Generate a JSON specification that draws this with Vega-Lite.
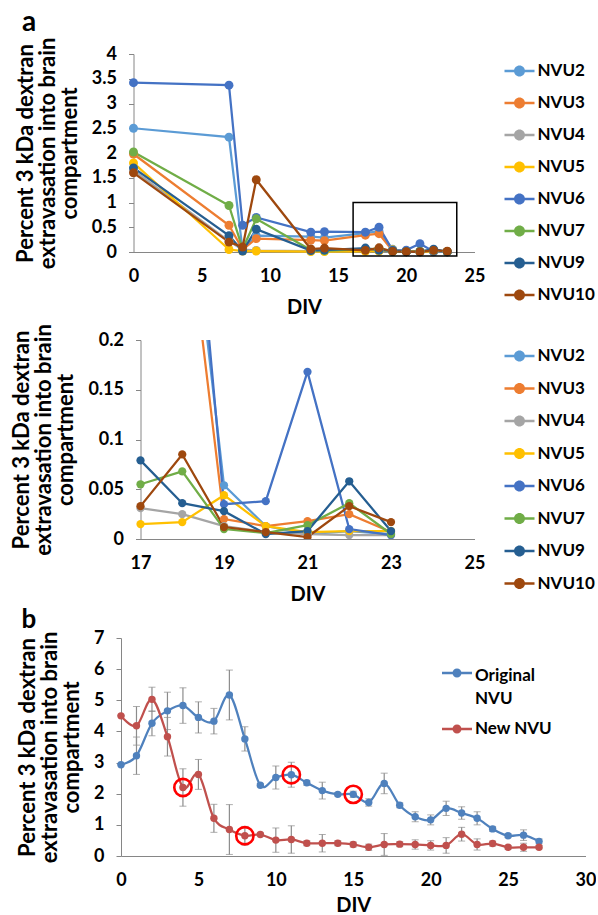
{
  "$schema": "https://vega.github.io/schema/vega-lite/v6.json",
  "background": "white",
  "padding": {"left": 10, "top": 9, "right": 0, "bottom": 0},
  "config": {
    "font": "Lato",
    "view": {"stroke": null},
    "axis": {"grid": false, "labelFont": "Lato", "labelFontWeight": "bold", "labelFontSize": 18, "labelColor": "#000000", "titleFont": "Lato", "titleFontWeight": "bold", "titleColor": "#000000", "domainColor": "#868686", "tickColor": "#868686", "minExtent": 0},
    "axisX": {"ticks": false, "labelPadding": 15, "titleFontSize": 20, "titlePadding": 12, "labelFlush": false},
    "axisY": {"tickSize": 5, "labelPadding": 12, "titleFontSize": 22, "titlePadding": 10, "titleLineHeight": 22},
    "legend": {"padding": 0, "labelFont": "Lato", "labelFontWeight": "bold", "labelFontSize": 17, "labelColor": "#000000", "symbolSize": 400, "symbolStrokeWidth": 0, "labelOffset": 8, "rowPadding": 14, "symbolOpacity": 1},
    "title": {"font": "Lato", "fontWeight": "bold", "fontSize": 28, "anchor": "start", "frame": "group", "color": "#000000"}
  },
  "datasets": {
    "nvu": [
      {"s":"NVU2","x":0,"y":2.5},{"s":"NVU2","x":7,"y":2.32},{"s":"NVU2","x":8,"y":0.03},{"s":"NVU2","x":9,"y":0.33},{"s":"NVU2","x":13,"y":0.31},{"s":"NVU2","x":14,"y":0.29},{"s":"NVU2","x":17,"y":0.38},{"s":"NVU2","x":18,"y":0.42},{"s":"NVU2","x":19,"y":0.054},{"s":"NVU2","x":20,"y":0.013},{"s":"NVU2","x":21,"y":0.005},{"s":"NVU2","x":22,"y":0.008},{"s":"NVU2","x":23,"y":0.005},
      {"s":"NVU3","x":0,"y":1.98},{"s":"NVU3","x":7,"y":0.54},{"s":"NVU3","x":8,"y":0.05},{"s":"NVU3","x":9,"y":0.27},{"s":"NVU3","x":13,"y":0.24},{"s":"NVU3","x":14,"y":0.23},{"s":"NVU3","x":17,"y":0.34},{"s":"NVU3","x":18,"y":0.37},{"s":"NVU3","x":19,"y":0.02},{"s":"NVU3","x":20,"y":0.013},{"s":"NVU3","x":21,"y":0.018},{"s":"NVU3","x":22,"y":0.025},{"s":"NVU3","x":23,"y":0.007},
      {"s":"NVU4","x":0,"y":1.65},{"s":"NVU4","x":7,"y":0.22},{"s":"NVU4","x":8,"y":0.05},{"s":"NVU4","x":9,"y":0.03},{"s":"NVU4","x":13,"y":0.02},{"s":"NVU4","x":14,"y":0.02},{"s":"NVU4","x":17,"y":0.031},{"s":"NVU4","x":18,"y":0.025},{"s":"NVU4","x":19,"y":0.013},{"s":"NVU4","x":20,"y":0.007},{"s":"NVU4","x":21,"y":0.005},{"s":"NVU4","x":22,"y":0.004},{"s":"NVU4","x":23,"y":0.004},
      {"s":"NVU5","x":0,"y":1.8},{"s":"NVU5","x":7,"y":0.05},{"s":"NVU5","x":8,"y":0.02},{"s":"NVU5","x":9,"y":0.02},{"s":"NVU5","x":13,"y":0.01},{"s":"NVU5","x":14,"y":0.01},{"s":"NVU5","x":17,"y":0.015},{"s":"NVU5","x":18,"y":0.017},{"s":"NVU5","x":19,"y":0.044},{"s":"NVU5","x":20,"y":0.013},{"s":"NVU5","x":21,"y":0.007},{"s":"NVU5","x":22,"y":0.008},{"s":"NVU5","x":23,"y":0.008},
      {"s":"NVU6","x":0,"y":3.42},{"s":"NVU6","x":7,"y":3.37},{"s":"NVU6","x":8,"y":0.54},{"s":"NVU6","x":9,"y":0.7},{"s":"NVU6","x":13,"y":0.4},{"s":"NVU6","x":14,"y":0.41},{"s":"NVU6","x":17,"y":0.4},{"s":"NVU6","x":18,"y":0.5},{"s":"NVU6","x":19,"y":0.035},{"s":"NVU6","x":20,"y":0.038},{"s":"NVU6","x":21,"y":0.168},{"s":"NVU6","x":22,"y":0.01},{"s":"NVU6","x":23,"y":0.004},
      {"s":"NVU7","x":0,"y":2.02},{"s":"NVU7","x":7,"y":0.94},{"s":"NVU7","x":8,"y":0.06},{"s":"NVU7","x":9,"y":0.67},{"s":"NVU7","x":13,"y":0.04},{"s":"NVU7","x":14,"y":0.03},{"s":"NVU7","x":17,"y":0.055},{"s":"NVU7","x":18,"y":0.068},{"s":"NVU7","x":19,"y":0.01},{"s":"NVU7","x":20,"y":0.006},{"s":"NVU7","x":21,"y":0.014},{"s":"NVU7","x":22,"y":0.036},{"s":"NVU7","x":23,"y":0.005},
      {"s":"NVU9","x":0,"y":1.7},{"s":"NVU9","x":7,"y":0.33},{"s":"NVU9","x":8,"y":0.02},{"s":"NVU9","x":9,"y":0.46},{"s":"NVU9","x":13,"y":0.03},{"s":"NVU9","x":14,"y":0.04},{"s":"NVU9","x":17,"y":0.079},{"s":"NVU9","x":18,"y":0.036},{"s":"NVU9","x":19,"y":0.028},{"s":"NVU9","x":20,"y":0.005},{"s":"NVU9","x":21,"y":0.008},{"s":"NVU9","x":22,"y":0.058},{"s":"NVU9","x":23,"y":0.008},
      {"s":"NVU10","x":0,"y":1.6},{"s":"NVU10","x":7,"y":0.2},{"s":"NVU10","x":8,"y":0.1},{"s":"NVU10","x":9,"y":1.46},{"s":"NVU10","x":13,"y":0.06},{"s":"NVU10","x":14,"y":0.08},{"s":"NVU10","x":17,"y":0.033},{"s":"NVU10","x":18,"y":0.085},{"s":"NVU10","x":19,"y":0.012},{"s":"NVU10","x":20,"y":0.007},{"s":"NVU10","x":21,"y":0.002},{"s":"NVU10","x":22,"y":0.033},{"s":"NVU10","x":23,"y":0.017}
    ],
    "box": [{"x": 16.1, "x2": 23.7, "y": -0.08, "y2": 1.0}],
    "perm": [
      {"s":"Original NVU","x":0,"y":2.93,"e":0},{"s":"Original NVU","x":1,"y":3.22,"e":0.6},{"s":"Original NVU","x":2,"y":4.26,"e":0.4},{"s":"Original NVU","x":3,"y":4.66,"e":0.6},{"s":"Original NVU","x":4,"y":4.83,"e":0.57},{"s":"Original NVU","x":5,"y":4.45,"e":0.5},{"s":"Original NVU","x":6,"y":4.33,"e":0.41},{"s":"Original NVU","x":7,"y":5.17,"e":0.8},{"s":"Original NVU","x":8,"y":3.76,"e":0.39},{"s":"Original NVU","x":9,"y":2.27,"e":0.05},{"s":"Original NVU","x":10,"y":2.52,"e":0.37},{"s":"Original NVU","x":11,"y":2.61,"e":0.4},{"s":"Original NVU","x":12,"y":2.35,"e":0.08},{"s":"Original NVU","x":13,"y":2.1,"e":0.27},{"s":"Original NVU","x":14,"y":1.98,"e":0.05},{"s":"Original NVU","x":15,"y":1.98,"e":0.1},{"s":"Original NVU","x":16,"y":1.72,"e":0.12},{"s":"Original NVU","x":17,"y":2.33,"e":0.33},{"s":"Original NVU","x":18,"y":1.63,"e":0.08},{"s":"Original NVU","x":19,"y":1.26,"e":0.16},{"s":"Original NVU","x":20,"y":1.16,"e":0.16},{"s":"Original NVU","x":21,"y":1.53,"e":0.23},{"s":"Original NVU","x":22,"y":1.38,"e":0.2},{"s":"Original NVU","x":23,"y":1.21,"e":0.21},{"s":"Original NVU","x":24,"y":0.87,"e":0.08},{"s":"Original NVU","x":25,"y":0.65,"e":0.06},{"s":"Original NVU","x":26,"y":0.67,"e":0.17},{"s":"Original NVU","x":27,"y":0.47,"e":0.08},
      {"s":"New NVU","x":0,"y":4.5,"e":0},{"s":"New NVU","x":1,"y":4.18,"e":0.62},{"s":"New NVU","x":2,"y":5.03,"e":0.39},{"s":"New NVU","x":3,"y":3.83,"e":0.62},{"s":"New NVU","x":4,"y":2.2,"e":0.6},{"s":"New NVU","x":5,"y":2.62,"e":0.48},{"s":"New NVU","x":6,"y":1.21,"e":0.45},{"s":"New NVU","x":7,"y":0.85,"e":0.8},{"s":"New NVU","x":8,"y":0.65,"e":0.3},{"s":"New NVU","x":9,"y":0.69,"e":0.05},{"s":"New NVU","x":10,"y":0.51,"e":0.39},{"s":"New NVU","x":11,"y":0.53,"e":0.44},{"s":"New NVU","x":12,"y":0.41,"e":0.08},{"s":"New NVU","x":13,"y":0.41,"e":0.28},{"s":"New NVU","x":14,"y":0.41,"e":0.08},{"s":"New NVU","x":15,"y":0.37,"e":0.08},{"s":"New NVU","x":16,"y":0.28,"e":0.1},{"s":"New NVU","x":17,"y":0.37,"e":0.35},{"s":"New NVU","x":18,"y":0.38,"e":0.08},{"s":"New NVU","x":19,"y":0.37,"e":0.15},{"s":"New NVU","x":20,"y":0.34,"e":0.15},{"s":"New NVU","x":21,"y":0.34,"e":0.25},{"s":"New NVU","x":22,"y":0.7,"e":0.22},{"s":"New NVU","x":23,"y":0.37,"e":0.18},{"s":"New NVU","x":24,"y":0.4,"e":0.08},{"s":"New NVU","x":25,"y":0.28,"e":0.06},{"s":"New NVU","x":26,"y":0.28,"e":0.13},{"s":"New NVU","x":27,"y":0.28,"e":0.05}
    ],
    "rings": [{"x":4,"y":2.2},{"x":8,"y":0.65},{"x":11,"y":2.61},{"x":15,"y":1.98}]
  },
  "columns": 1,
  "align": "none",
  "spacing": 3,
  "resolve": {"scale": {"color": "independent", "stroke": "independent"}, "legend": {"color": "independent", "stroke": "independent"}},
  "concat": [
    {
      "columns": 1,
      "align": "none",
      "spacing": 6,
      "resolve": {"scale": {"color": "independent", "stroke": "independent"}, "legend": {"color": "independent", "stroke": "independent"}},
      "concat": [
        {
          "width": 353.5, "height": 198,
          "title": {"text": "a", "dx": -99, "offset": 0},
          "data": {"name": "nvu"},
          "encoding": {
            "x": {"field": "x", "type": "quantitative", "scale": {"domain": [0, 25], "range": [12.5, 353.5]}, "axis": {"values": [0, 5, 10, 15, 20, 25], "title": "DIV"}},
            "y": {"field": "y", "type": "quantitative", "scale": {"domain": [0, 4]}, "axis": {"values": [0, 0.5, 1, 1.5, 2, 2.5, 3, 3.5, 4], "format": "~g", "offset": -12.5, "title": ["Percent 3 kDa dextran", "extravasation into brain", "compartment"]}}
          },
          "layer": [
            {"mark": {"type": "line", "strokeWidth": 2.25},
             "encoding": {"stroke": {"field": "s", "type": "nominal", "scale": {"domain": ["NVU10","NVU9","NVU7","NVU6","NVU5","NVU4","NVU3","NVU2"], "range": ["#9E480E","#255E91","#70AD47","#4472C4","#FFC000","#A5A5A5","#ED7D31","#5B9BD5"]}, "legend": null}}},
            {"mark": {"type": "point", "filled": true, "size": 80, "opacity": 1},
             "encoding": {"color": {"field": "s", "type": "nominal", "scale": {"domain": ["NVU2","NVU3","NVU4","NVU5","NVU6","NVU7","NVU9","NVU10"], "range": ["#5B9BD5","#ED7D31","#A5A5A5","#FFC000","#4472C4","#70AD47","#255E91","#9E480E"]}, "legend": {"title": null, "orient": "none", "legendX": 388.5, "legendY": 7, "symbolType": "M-1.5,-0.125H1.5V0.125H-1.5Z M-0.55,0A0.55,0.55,0,1,1,0.55,0A0.55,0.55,0,1,1,-0.55,0Z"}}}},
            {"data": {"name": "box"}, "mark": {"type": "rect", "fillOpacity": 0, "stroke": "#000000", "strokeWidth": 1.5},
             "encoding": {"x2": {"field": "x2"}, "y2": {"field": "y2"}}}
          ]
        },
        {
          "width": 353.5, "height": 199,
          "data": {"name": "nvu"},
          "transform": [{"filter": "datum.x >= 17"}],
          "encoding": {
            "x": {"field": "x", "type": "quantitative", "scale": {"domain": [17, 25], "range": [19.5, 353.5]}, "axis": {"values": [17, 19, 21, 23, 25], "title": "DIV"}},
            "y": {"field": "y", "type": "quantitative", "scale": {"domain": [0, 0.2]}, "axis": {"values": [0, 0.05, 0.1, 0.15, 0.2], "format": "~g", "offset": -19.5, "title": ["Percent 3 kDa dextran", "extravasation into brain", "compartment"]}}
          },
          "layer": [
            {"mark": {"type": "line", "strokeWidth": 2.25, "clip": true},
             "encoding": {"stroke": {"field": "s", "type": "nominal", "scale": {"domain": ["NVU10","NVU9","NVU7","NVU6","NVU5","NVU4","NVU3","NVU2"], "range": ["#9E480E","#255E91","#70AD47","#4472C4","#FFC000","#A5A5A5","#ED7D31","#5B9BD5"]}, "legend": null}}},
            {"mark": {"type": "point", "filled": true, "size": 68, "opacity": 1, "clip": true},
             "encoding": {"color": {"field": "s", "type": "nominal", "scale": {"domain": ["NVU2","NVU3","NVU4","NVU5","NVU6","NVU7","NVU9","NVU10"], "range": ["#5B9BD5","#ED7D31","#A5A5A5","#FFC000","#4472C4","#70AD47","#255E91","#9E480E"]}, "legend": {"title": null, "orient": "none", "legendX": 388.5, "legendY": 6, "rowPadding": 14.5, "symbolType": "M-1.5,-0.125H1.5V0.125H-1.5Z M-0.55,0A0.55,0.55,0,1,1,0.55,0A0.55,0.55,0,1,1,-0.55,0Z"}}}}
          ]
        }
      ]
    },
    {
      "width": 464.5, "height": 218,
      "title": {"text": "b", "dx": -99.5, "offset": -4, "fontSize": 26},
      "data": {"name": "perm"},
      "encoding": {
        "x": {"field": "x", "type": "quantitative", "scale": {"domain": [0, 30]}, "axis": {"values": [0, 5, 10, 15, 20, 25, 30], "title": "DIV", "titlePadding": 6}},
        "y": {"field": "y", "type": "quantitative", "scale": {"domain": [0, 7]}, "axis": {"values": [0, 1, 2, 3, 4, 5, 6, 7], "title": ["Percent 3 kDa dextran", "extravasation into brain", "compartment"]}}
      },
      "layer": [
        {"mark": {"type": "errorbar", "ticks": {"size": 7, "color": "#8C8C8C", "strokeWidth": 1.2}, "rule": {"color": "#8C8C8C", "strokeWidth": 1.2}},
         "encoding": {"yError": {"field": "e"}, "detail": {"field": "s"}}},
        {"mark": {"type": "line", "strokeWidth": 2.25, "interpolate": "cardinal"},
         "encoding": {"stroke": {"field": "s", "type": "nominal", "scale": {"domain": ["New NVU", "Original NVU"], "range": ["#C0504D", "#4F81BD"]}, "legend": null}}},
        {"mark": {"type": "point", "filled": true, "size": 55, "opacity": 1},
         "encoding": {"color": {"field": "s", "type": "nominal", "scale": {"domain": ["Original NVU", "New NVU"], "range": ["#4F81BD", "#C0504D"]}, "legend": {"title": null, "orient": "none", "legendX": 326, "legendY": 25, "labelExpr": "datum.label == 'Original NVU' ? ['Original', 'NVU'] : 'New NVU'", "rowPadding": 12, "symbolType": "M-1.5,-0.125H1.5V0.125H-1.5Z M-0.45,0A0.45,0.45,0,1,1,0.45,0A0.45,0.45,0,1,1,-0.45,0Z", "encode": {"labels": {"update": {"lineHeight": {"value": 23}, "dy": {"signal": "datum.value == 'Original NVU' ? 3 : 0"}}}}}}}},
        {"data": {"name": "rings"}, "mark": {"type": "point", "shape": "circle", "filled": false, "size": 300, "stroke": "#FF0000", "strokeWidth": 2.6, "opacity": 1}}
      ]
    }
  ]
}
